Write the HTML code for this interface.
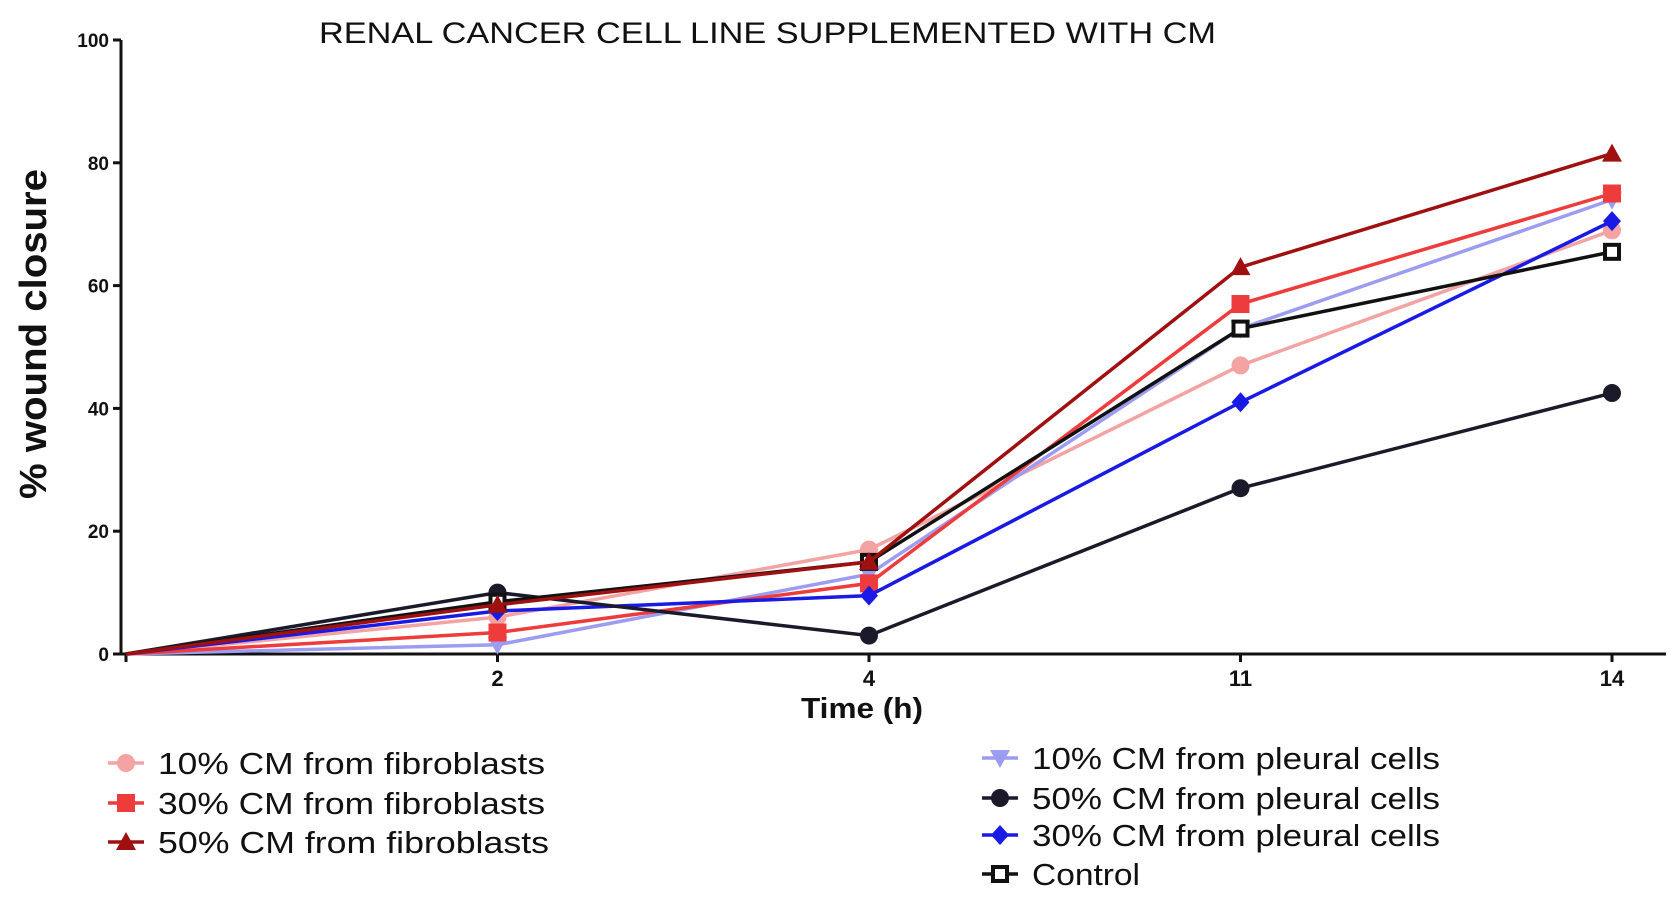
<!DOCTYPE html>
<html><head><meta charset="utf-8"><style>
html,body{margin:0;padding:0;background:#fff;}
svg{display:block;font-family:"Liberation Sans",Arial,sans-serif;}
</style></head><body>
<svg id="chart" width="1677" height="902" viewBox="0 0 1677 902">
<text x="319" y="43" font-size="30" textLength="897" lengthAdjust="spacingAndGlyphs" fill="#111">RENAL CANCER CELL LINE SUPPLEMENTED WITH CM</text>
<g id="axes"></g>
<g id="series"></g>
<g id="legend"></g>
</svg>
<script>
const categories = ["0","2","4","11","14"];
const yTicks = [0,20,40,60,80,100];
const fib10 = [0, 6, 17, 47, 69];
const fib30 = [0, 3.5, 11.5, 57, 75];
const fib50 = [0, 8, 15, 63, 81.5];
const pl10 = [0, 1.5, 13, 53, 74];
const pl50 = [0, 10, 3, 27, 42.5];
const pl30 = [0, 7, 9.5, 41, 70.5];
const control = [0, 8.5, 15, 53, 65.5];

const NS="http://www.w3.org/2000/svg";
const X0=126, XS=371.5, Y0=654, Y100=40;
const xScale=i=>X0+i*XS;
const yScale=v=>Y0-(v/100)*(Y0-Y100);
function mk(tag,attrs,parent){const e=document.createElementNS(NS,tag);for(const k in attrs)e.setAttribute(k,attrs[k]);parent.appendChild(e);return e;}
const axes=document.getElementById('axes');
let e;
e=mk('line',{x1:121,y1:Y100,x2:121,y2:Y0,stroke:'#111','stroke-width':3},axes);


e=mk('line',{x1:121,y1:Y0,x2:1666,y2:Y0,stroke:'#111','stroke-width':3},axes);


yTicks.forEach(t=>{
  const y=yScale(t);
  mk('line',{x1:113,y1:y,x2:121,y2:y,stroke:'#111','stroke-width':3},axes);
  e=mk('text',{x:109,y:y+7,'font-size':19,'font-weight':'bold','text-anchor':'end',fill:'#111'},axes);
  e.textContent=t;
  
  
});
categories.forEach((c,i)=>{
  const x=xScale(i);
  mk('line',{x1:x,y1:Y0,x2:x,y2:Y0+8,stroke:'#111','stroke-width':3},axes);
  if(i>0){
    e=mk('text',{x:x,y:686,'font-size':22,'font-weight':'bold','text-anchor':'middle',fill:'#111'},axes);
    e.textContent=c;
    
    
  }
});
e=mk('text',{x:801,y:718,'font-size':29,'font-weight':'bold',textLength:122,lengthAdjust:'spacingAndGlyphs',fill:'#111'},axes);
e.textContent='Time (h)';


e=mk('text',{x:-165,y:0,'font-size':38,'font-weight':'bold',textLength:330,lengthAdjust:'spacingAndGlyphs',fill:'#111',transform:'translate(46,334) rotate(-90)'},axes);
e.textContent='% wound closure';



function marker(type,x,y,color,parent){
  const s=9;
  if(type==='circle') return mk('circle',{cx:x,cy:y,r:s,fill:color},parent);
  if(type==='square') return mk('rect',{x:x-s,y:y-s,width:2*s,height:2*s,fill:color},parent);
  if(type==='osquare') return mk('rect',{x:x-7,y:y-7,width:14,height:14,fill:'#fff',stroke:color,'stroke-width':4},parent);
  if(type==='tri') return mk('polygon',{points:`${x},${y-s-1} ${x+s+1},${y+s-1} ${x-s-1},${y+s-1}`,fill:color},parent);
  if(type==='tridown') return mk('polygon',{points:`${x-s-1},${y-s+1} ${x+s+1},${y-s+1} ${x},${y+s+1}`,fill:color},parent);
  if(type==='diamond') return mk('polygon',{points:`${x},${y-s-1} ${x+s},${y} ${x},${y+s+1} ${x-s},${y}`,fill:color},parent);
}
const series=[
  {name:'10% CM from fibroblasts',data:fib10,color:'#f4a3a3',m:'circle',key:'fib10',w:387},
  {name:'10% CM from pleural cells',data:pl10,color:'#9c9cf0',m:'tridown',key:'pl10',w:408},
  {name:'30% CM from fibroblasts',data:fib30,color:'#ee3b3b',m:'square',key:'fib30',w:387},
  {name:'30% CM from pleural cells',data:pl30,color:'#1a1ae6',m:'diamond',key:'pl30',w:408},
  {name:'50% CM from pleural cells',data:pl50,color:'#1a1a2a',m:'circle',key:'pl50',w:408},
  {name:'Control',data:control,color:'#111',m:'osquare',key:'control',w:108},
  {name:'50% CM from fibroblasts',data:fib50,color:'#a01010',m:'tri',key:'fib50',w:391}
];
const sg=document.getElementById('series');
series.forEach(s=>{
  const g=mk('g',{},sg);
  
  
  const pts=s.data.map((v,i)=>xScale(i)+','+yScale(v)).join(' ');
  const l=mk('polyline',{points:pts,fill:'none',stroke:s.color,'stroke-width':3.5},g);
  
  
  s.data.forEach((v,i)=>{
    if(i===0)return;
    const p=marker(s.m,xScale(i),yScale(v),s.color,g);
    
    
  });
});
const legendItems=[
  {s:series[0],x:126,y:763},{s:series[2],x:126,y:803},{s:series[6],x:126,y:842},
  {s:series[1],x:1000,y:758},{s:series[4],x:1000,y:798},{s:series[3],x:1000,y:835},{s:series[5],x:1000,y:874}
];
const lg=document.getElementById('legend');
legendItems.forEach(it=>{
  const g=mk('g',{},lg);
  
  
  mk('line',{x1:it.x-18,y1:it.y,x2:it.x+18,y2:it.y,stroke:it.s.color,'stroke-width':3.5},g);
  marker(it.s.m,it.x,it.y,it.s.color,g);
  const t=mk('text',{x:it.x+32,y:it.y+11,'font-size':31,textLength:it.s.w,lengthAdjust:'spacingAndGlyphs',fill:'#111'},g);
  t.textContent=it.s.name;
});
</script>
</body></html>
